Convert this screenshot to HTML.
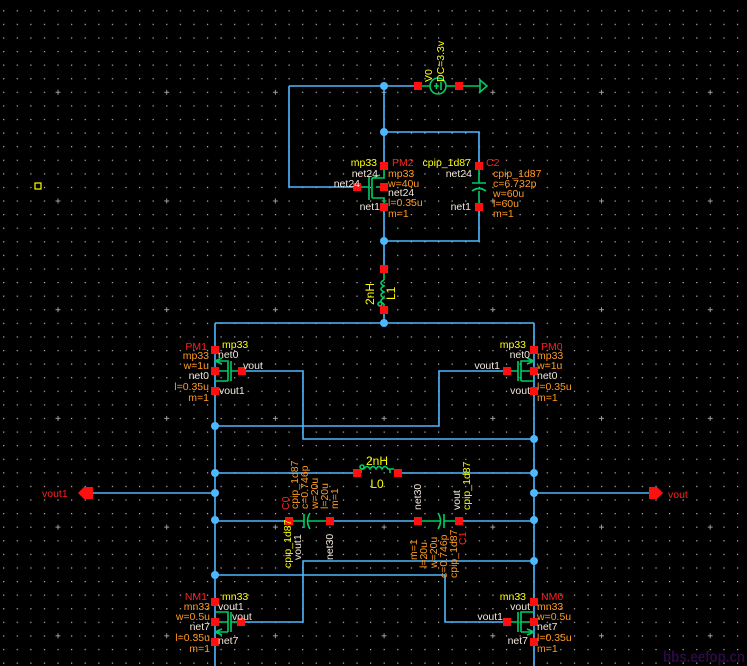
<!DOCTYPE html>
<html><head><meta charset="utf-8"><style>
html,body{margin:0;padding:0;background:#000;}
svg{display:block;font-family:"Liberation Sans",sans-serif;}
.w{stroke:#4db8ff;stroke-width:1.6;fill:none}
.g{stroke:#00cc66;stroke-width:1.6;fill:none}
.p{fill:#ff1010}
.j{fill:#4db8ff}
.y{fill:#ffff00;font-size:10.5px}
.r{fill:#ff2020;font-size:10.5px}
.o{fill:#ff9a20;font-size:10.5px}
.t{fill:#f0e6d8;font-size:10.5px}
.e{text-anchor:end}
</style></head><body>
<svg width="747" height="666" viewBox="0 0 747 666" xmlns="http://www.w3.org/2000/svg">
<defs>
<pattern id="dots" x="3.1" y="10.2" width="13.59" height="13.59" patternUnits="userSpaceOnUse">
<rect x="0" y="0" width="1.2" height="1.2" fill="#bbb"/>
</pattern>
<pattern id="plus" x="55" y="198" width="108.7" height="108.7" patternUnits="userSpaceOnUse">
<path d="M0.5 3H5.5M3 0.5V5.5" stroke="#999" stroke-width="1"/>
</pattern>
</defs>
<rect width="747" height="666" fill="#000"/>
<rect width="747" height="666" fill="url(#dots)"/>
<rect width="747" height="666" fill="url(#plus)"/>
<rect x="35" y="183" width="6" height="6" fill="none" stroke="#ffff00" stroke-width="1.2"/>

<!-- wires -->
<path class="w" d="M289 86H418 M289 86V187H357 M384 86V166 M384 132H479V166 M479 208V241H384 M384 208V269 M384 310V323 M215 323H534 M215 323V666 M534 323V666"/>
<path class="w" d="M242 371H303V439H534 M507 371H439V426H215"/>
<path class="w" d="M215 473H357 M398 473H534 M93 493H215 M534 493H649 M215 521H289 M330 521H418 M459 521H534"/>
<path class="w" d="M534 561H303V622H241 M215 575H445V622H507"/>

<!-- V0 -->
<path class="g" d="M418 86H430 M446 86H459 M459 86H480"/>
<circle class="g" cx="438" cy="86" r="8"/>
<path class="g" d="M434 86H439 M436.5 83V89 M441 82V90"/>
<path class="g" d="M480 80L487 86L480 92Z"/>
<rect class="p" x="414" y="82" width="8" height="8"/><rect class="p" x="455" y="82" width="8" height="8"/>
<text class="y" transform="translate(432,82) rotate(-90)">V0</text>
<text class="y" transform="translate(444,82) rotate(-90)">DC=3.3v</text>

<!-- PM2 -->
<path class="g" d="M384 166V178H372 M372 178V198 M369 176V200 M357 187H369 M384 208V198H372 M384 187H376 M372 178L380 175"/>
<rect class="p" x="380" y="162" width="8" height="8"/><rect class="p" x="353" y="183" width="8" height="8"/><rect class="p" x="380" y="183" width="8" height="8"/><rect class="p" x="380" y="203" width="8" height="8"/>
<text class="y e" x="377" y="166">mp33</text><text class="r" x="392" y="166">PM2</text>
<text class="t e" x="378" y="177">net24</text><text class="o" x="388" y="177">mp33</text>
<text class="t e" x="360" y="187">net24</text><text class="o" x="388" y="187">w=40u</text>
<text class="t" x="388" y="196">net24</text><text class="o" x="388" y="206">l=0.35u</text>
<text class="t e" x="380" y="210">net1</text><text class="o" x="388" y="217">m=1</text>
<!-- C2 -->
<path class="g" d="M479 170V183 M472 183H486 M479 208V191 M472 191Q479 186 486 191"/>
<rect class="p" x="475" y="162" width="8" height="8"/><rect class="p" x="475" y="203" width="8" height="8"/>
<text class="y e" x="471" y="166">cpip_1d87</text><text class="r" x="486" y="166">C2</text>
<text class="t e" x="472" y="177">net24</text><text class="o" x="493" y="177">cpip_1d87</text>
<text class="o" x="493" y="187">c=6.732p</text><text class="o" x="493" y="197">w=60u</text>
<text class="o" x="493" y="207">l=60u</text><text class="t e" x="471" y="210">net1</text><text class="o" x="493" y="217">m=1</text>

<!-- L1 -->
<path class="g" d="M384 273V280 M384 280q-6 3 0 6q-6 3 0 6q-6 3 0 6q-6 3 0 6 M384 304V306"/>
<circle class="g" cx="380" cy="304" r="2"/>
<rect class="p" x="380" y="265" width="8" height="8"/><rect class="p" x="380" y="306" width="8" height="8"/>
<text class="y" transform="translate(374,305) rotate(-90)" style="font-size:12px">2nH</text>
<text class="y" transform="translate(395,300) rotate(-90)" style="font-size:12px">L1</text>

<!-- PM1 -->
<path class="g" d="M215 361H228V381 M231 361V381 M228 371H215 M215 381H228 M231 371H242 M215 361L222 358 M215 361L222 364"/>
<rect class="p" x="211" y="346" width="8" height="8"/><rect class="p" x="211" y="367" width="8" height="8"/><rect class="p" x="211" y="387" width="8" height="8"/><rect class="p" x="238" y="367" width="8" height="8"/>
<text class="r e" x="207" y="350">PM1</text><text class="y" x="222" y="348">mp33</text>
<text class="o e" x="209" y="359">mp33</text><text class="t" x="218" y="358">net0</text>
<text class="o e" x="209" y="369">w=1u</text><text class="t" x="243" y="369">vout</text>
<text class="t e" x="209" y="379">net0</text><text class="o e" x="209" y="390">l=0.35u</text>
<text class="t" x="219" y="394">vout1</text><text class="o e" x="209" y="401">m=1</text>
<!-- PM0 -->
<path class="g" d="M534 361H521V381 M518 361V381 M521 371H534 M534 381H521 M518 371H507 M534 361L527 358 M534 361L527 364"/>
<rect class="p" x="530" y="346" width="8" height="8"/><rect class="p" x="530" y="367" width="8" height="8"/><rect class="p" x="530" y="387" width="8" height="8"/><rect class="p" x="503" y="367" width="8" height="8"/>
<text class="y e" x="526" y="348">mp33</text><text class="r" x="541" y="350">PM0</text>
<text class="t e" x="530" y="358">net0</text><text class="o" x="537" y="359">mp33</text>
<text class="t e" x="500" y="369">vout1</text><text class="o" x="537" y="369">w=1u</text>
<text class="t" x="537" y="379">net0</text><text class="t e" x="530" y="394">vout</text>
<text class="o" x="537" y="390">l=0.35u</text><text class="o" x="537" y="401">m=1</text>

<!-- L0 -->
<path class="g" d="M361 473V469H364 M364 469q3-5 6 0q3-5 6 0q3-5 6 0q3-5 6 0H394 M390 469V473"/>
<circle class="g" cx="362" cy="467" r="2"/>
<rect class="p" x="353" y="469" width="8" height="8"/><rect class="p" x="394" y="469" width="8" height="8"/>
<text class="y" x="377" y="465" text-anchor="middle" style="font-size:12px">2nH</text>
<text class="y" x="377" y="488" text-anchor="middle" style="font-size:12px">L0</text>

<!-- C0 / C1 -->
<path class="g" d="M289 521H304 M304 514V528 M310 513Q305 521 310 529 M308 521H330"/>
<path class="g" d="M418 521H440 M438 513Q443 521 438 529 M444 514V528 M444 521H459"/>
<rect class="p" x="285" y="517" width="8" height="8"/><rect class="p" x="326" y="517" width="8" height="8"/>
<rect class="p" x="414" y="517" width="8" height="8"/><rect class="p" x="455" y="517" width="8" height="8"/>
<text class="r" transform="translate(289,510) rotate(-90)">C0</text>
<text class="o" transform="translate(298,509) rotate(-90)">cpip_1d87</text>
<text class="o" transform="translate(308,509) rotate(-90)">c=0.746p</text>
<text class="o" transform="translate(318,509) rotate(-90)">w=20u</text>
<text class="o" transform="translate(328,509) rotate(-90)">l=20u</text>
<text class="o" transform="translate(338,509) rotate(-90)">m=1</text>
<text class="y" transform="translate(291,568) rotate(-90)">cpip_1d87</text>
<text class="t" transform="translate(301,560) rotate(-90)">vout1</text>
<text class="t" transform="translate(333,560) rotate(-90)">net30</text>
<text class="t" transform="translate(421,510) rotate(-90)">net30</text>
<text class="t" transform="translate(460,510) rotate(-90)">vout</text>
<text class="y" transform="translate(470,510) rotate(-90)">cpip_1d87</text>
<text class="o" transform="translate(417,560) rotate(-90)">m=1</text>
<text class="o" transform="translate(427,568) rotate(-90)">l=20u</text>
<text class="o" transform="translate(437,568) rotate(-90)">w=20u</text>
<text class="o" transform="translate(447,578) rotate(-90)">c=0.746p</text>
<text class="o" transform="translate(457,578) rotate(-90)">cpip_1d87</text>
<text class="r" transform="translate(466,545) rotate(-90)">C1</text>

<!-- pins vout1 / vout -->
<path d="M93 487H84L78 493L84 499H93Z" fill="#ff1010"/>
<text x="42" y="497" fill="#ff2020" style="font-size:10.5px">vout1</text>
<path d="M649 487H657L663 493L657 499H649Z" fill="#ff1010"/>
<text x="668" y="498" fill="#ff2020" style="font-size:10.5px">vout</text>

<!-- NM1 -->
<path class="g" d="M215 612H228V632 M231 612V632 M228 622H215 M215 632H228 M231 622H241 M215 632L222 629 M215 632L222 635"/>
<rect class="p" x="211" y="598" width="8" height="8"/><rect class="p" x="211" y="618" width="8" height="8"/><rect class="p" x="211" y="638" width="8" height="8"/><rect class="p" x="237" y="618" width="8" height="8"/>
<text class="r e" x="207" y="600">NM1</text><text class="y" x="222" y="600">mn33</text>
<text class="o e" x="210" y="610">mn33</text><text class="t" x="218" y="610">vout1</text>
<text class="o e" x="210" y="620">w=0.5u</text><text class="t" x="232" y="620">vout</text>
<text class="t e" x="210" y="630">net7</text><text class="o e" x="210" y="641">l=0.35u</text>
<text class="t" x="218" y="644">net7</text><text class="o e" x="210" y="652">m=1</text>
<!-- NM0 -->
<path class="g" d="M534 612H521V632 M518 612V632 M521 622H534 M534 632H521 M518 622H507 M534 632L527 629 M534 632L527 635"/>
<rect class="p" x="530" y="598" width="8" height="8"/><rect class="p" x="530" y="618" width="8" height="8"/><rect class="p" x="530" y="638" width="8" height="8"/><rect class="p" x="503" y="618" width="8" height="8"/>
<text class="y e" x="526" y="600">mn33</text><text class="r" x="541" y="600">NM0</text>
<text class="t e" x="530" y="610">vout</text><text class="o" x="537" y="610">mn33</text>
<text class="t e" x="503" y="620">vout1</text><text class="o" x="537" y="620">w=0.5u</text>
<text class="t" x="537" y="630">net7</text><text class="t e" x="528" y="644">net7</text>
<text class="o" x="537" y="641">l=0.35u</text><text class="o" x="537" y="652">m=1</text>

<!-- junctions -->
<g class="j">
<circle cx="384" cy="86" r="4"/><circle cx="384" cy="132" r="4"/><circle cx="384" cy="241" r="4"/><circle cx="384" cy="323" r="4"/>
<circle cx="215" cy="426" r="4"/><circle cx="215" cy="473" r="4"/><circle cx="215" cy="493" r="4"/><circle cx="215" cy="520" r="4"/><circle cx="215" cy="575" r="4"/>
<circle cx="534" cy="439" r="4"/><circle cx="534" cy="473" r="4"/><circle cx="534" cy="493" r="4"/><circle cx="534" cy="520" r="4"/><circle cx="534" cy="561" r="4"/>
</g>
<text x="663" y="662" fill="#2a0a40" textLength="82" lengthAdjust="spacingAndGlyphs" style="font-size:16px;font-weight:bold">bbs.eefop.cn</text>
</svg>
</body></html>
